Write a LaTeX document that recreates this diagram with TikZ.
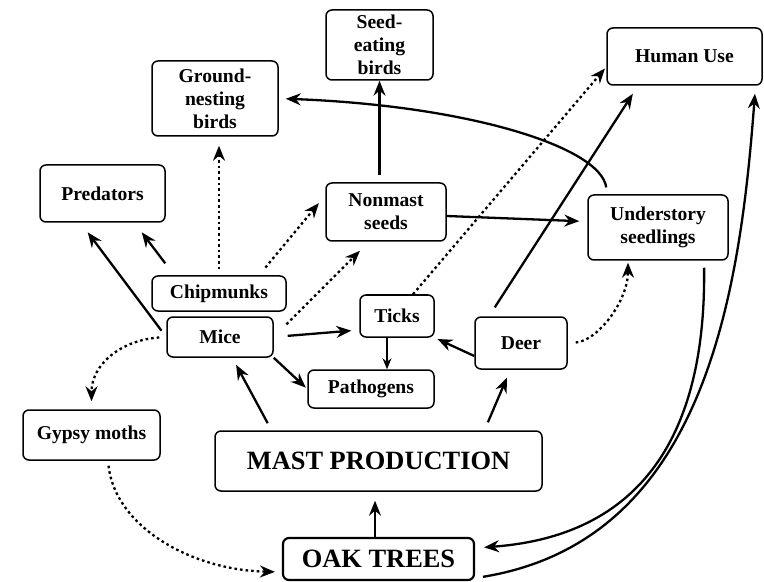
\documentclass[tikz,border=0pt]{standalone}
\usepackage{fontspec}
\setmainfont{Liberation Serif}
\usetikzlibrary{arrows.meta}

\begin{document}
\begin{tikzpicture}[x=0.5pt, y=-0.5pt,
	box/.style={draw, line width=0.75pt, rounded corners=3pt, align=center, inner sep=0pt, font=\bfseries\fontsize{9.8}{11.5}\selectfont},
	bigbox/.style={box, font=\bfseries\fontsize{13.2}{15}\selectfont},
	pfeil/.style={-{Stealth[length=7.5pt, width=6pt, inset=2.5pt]}, line width=1.15pt},
	thinpfeil/.style={-{Stealth[length=5.5pt, width=4.5pt, inset=1.8pt]}, line width=0.7pt},
	punkte/.style={pfeil, dash pattern=on 1.3pt off 1.5pt}]
	\useasboundingbox (0,0) rectangle (764,582); % Rand um Grafik
	
	% Kaesten
	\node[box, minimum width=53.5pt, minimum height=35pt] (seedbirds) at (379.5,45) {Seed-\\eating\\birds};
	\node[box, minimum width=63pt, minimum height=37.5pt] (groundbirds) at (215,98.5) {Ground-\\nesting\\birds};
	\node[box, minimum width=77.5pt, minimum height=28.5pt] (humanuse) at (684.5,56.5) {Human Use};
	\node[box, minimum width=62.5pt, minimum height=28.5pt] (predators) at (102.5,193.5) {Predators};
	\node[box, minimum width=60pt, minimum height=29pt] (nonmast) at (386,212) {Nonmast\\seeds};
	\node[box, minimum width=70pt, minimum height=32.5pt] (understory) at (658,227.5) {Understory\\seedlings};
	\node[box, minimum width=67pt, minimum height=17.5pt] (chipmunks) at (219,293.5) {Chipmunks};
	\node[box, minimum width=53pt, minimum height=20pt] (mice) at (220,337) {Mice};
	\node[box, minimum width=37pt, minimum height=21pt] (ticks) at (397,316) {Ticks};
	\node[box, minimum width=63pt, minimum height=19pt] (pathogens) at (371,389) {Pathogens};
	\node[box, minimum width=46pt, minimum height=26pt] (deer) at (521,343) {Deer};
	\node[box, minimum width=68.5pt, minimum height=25pt] (gypsy) at (91.5,435) {Gypsy moths};
	\node[bigbox, minimum width=163.5pt, minimum height=30pt] (mast) at (378.5,461) {MAST PRODUCTION};
	\node[bigbox, line width=1.1pt, minimum width=95.5pt, minimum height=21pt] (oak) at (378.5,559) {OAK TREES};
	
	% durchgezogene Pfeile
	\draw[pfeil, shorten <=3.5pt] (nonmast.north -| seedbirds.south) -- (seedbirds.south);
	\draw[pfeil, shorten <=3.5pt, shorten >=3.5pt] ([xshift=10pt]understory.north west) .. controls +(-7,-48) and +(187,7) .. (groundbirds.east);
	\draw[pfeil, shorten <=7.5pt, shorten >=6pt] ([xshift=11.5pt]chipmunks.north west) -- ([xshift=16pt]predators.south);
	\draw[pfeil, shorten <=4pt, shorten >=6pt] (mice.west) -- ([xshift=-11pt]predators.south);
	\draw[pfeil, shorten <=7pt, shorten >=4pt] (mice.east) -- ([yshift=-7pt]ticks.west);
	\draw[pfeil, shorten >=1pt] (mice.south east) -- (pathogens.west);
	\draw[thinpfeil] ([xshift=-5pt]ticks.south) -- ([xshift=-5pt]ticks.south |- pathogens.north);
	\draw[pfeil, shorten <=5.3pt, shorten >=4.75pt] ([xshift=-16pt]deer.north) -- ([xshift=-23.25pt]humanuse.south);
	\draw[pfeil, shorten >=1.5pt] ([yshift=-6.5pt]deer.west) -- (ticks.south east);
	\draw[pfeil, shorten >=4pt] ([yshift=-2pt]nonmast.east) -- ([yshift=3pt]understory.west);
	\draw[pfeil, shorten <=4pt, shorten >=4pt] ([xshift=-53.5pt]mast.north) -- ([xshift=6.15pt]mice.south);
	\draw[pfeil, shorten <=4.3pt, shorten >=4.3pt] ([xshift=53pt]mast.north) -- ([xshift=-5.35pt]deer.south);
	\draw[pfeil, line width=0.9pt, shorten >=4.5pt] ([xshift=-1.75pt]oak.north) -- ([xshift=-1.75pt]oak.north |- mast.south);
	\draw[pfeil, shorten <=3.5pt, shorten >=4.5pt] ([xshift=23pt]understory.south) .. controls +(2,160) and +(177,-13) .. ([yshift=5.5pt]oak.east);
	\draw[pfeil, shorten <=4pt, shorten >=4pt] ([yshift=1.5pt]oak.south east) .. controls +(227,-37) and +(-16,215) .. ([xshift=35.5pt]humanuse.south);
	
	% gepunktete Pfeile
	\draw[punkte, shorten <=3pt, shorten >=4.5pt] (chipmunks.north) -- (chipmunks.north |- groundbirds.south);
	\draw[punkte, shorten <=5pt, shorten >=5pt] ([xshift=20pt]chipmunks.north) -- ([yshift=8.3pt]nonmast.west);
	\draw[punkte, shorten <=9pt, shorten >=6.4pt] (mice.east) -- ([xshift=-8.5pt]nonmast.south);
	\draw[punkte, shorten >=1pt] ([xshift=8pt]ticks.north) -- ([yshift=-5.25pt]humanuse.west);
	\draw[punkte, shorten <=4pt, shorten >=1pt] (deer.east) .. controls +(30,-2) and +(0,40) .. ([xshift=-15pt]understory.south);
	\draw[punkte, shorten <=3.5pt, shorten >=4pt] (mice.west) .. controls +(-45,3) and +(0,-45) .. (gypsy.north);
	\draw[punkte, shorten <=2.5pt, shorten >=3.5pt] ([xshift=8.25pt]gypsy.south) .. controls +(7,65) and +(-92,-2) .. ([yshift=-6.5pt]oak.west);
\end{tikzpicture}
\end{document}
